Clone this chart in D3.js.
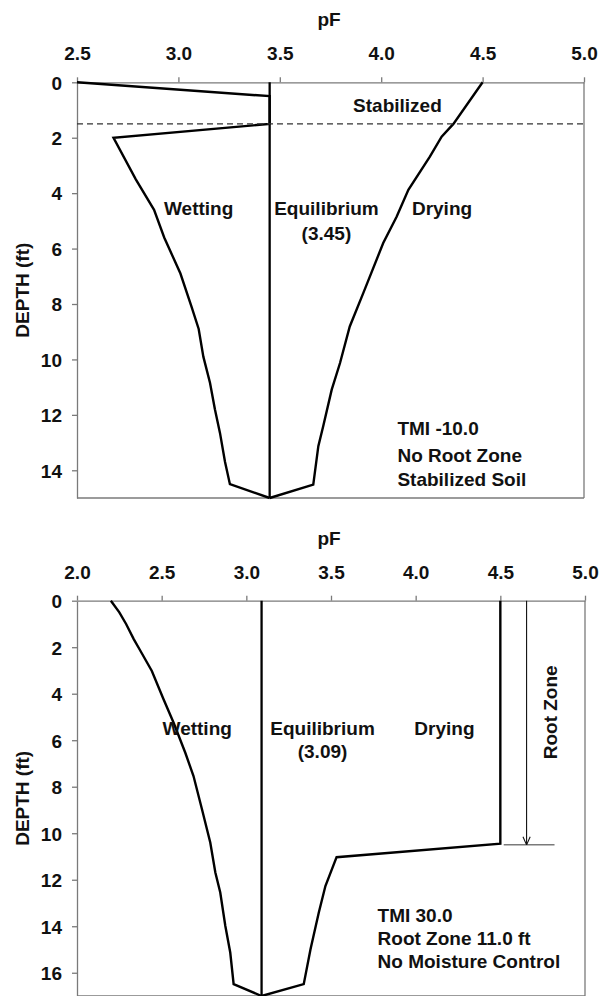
<!DOCTYPE html>
<html>
<head>
<meta charset="utf-8">
<script src="https://cdn.jsdelivr.net/npm/d3@7"></script>
<style>
  html, body { margin: 0; padding: 0; background: #fff; }
  svg { display: block; }
  text { font-family: "Liberation Sans", Arial, sans-serif; font-weight: bold; fill: #111; }
</style>
</head>
<body>
<svg id="chart" width="600" height="996"></svg>
<script>
// ── Data: [pF, depth ft] ───────────────────────────────────────────────────
// Upper panel: TMI -10, no root zone, stabilized soil
const TOP_PF_TICKS = [2.5, 3.0, 3.5, 4.0, 4.5, 5.0];
const TOP_DEPTH_TICKS = [0, 2, 4, 6, 8, 10, 12, 14];
const TOP_EQUILIBRIUM = 3.45;
const TOP_STABILIZED_DEPTH = 1.5;
const TOP_WETTING = [
  [2.5, 0], [3.45, 0.5], [3.45, 1.5], [2.68, 2.0], [2.79, 3.5], [2.88, 4.6],
  [2.93, 5.6], [3.01, 6.9], [3.065, 8.1], [3.1, 8.9], [3.123, 9.9], [3.156, 10.85],
  [3.18, 11.8], [3.205, 12.65], [3.23, 13.7], [3.254, 14.5], [3.45, 15]
];
const TOP_DRYING = [
  [4.5, 0], [4.356, 1.5], [4.298, 1.96], [4.24, 2.68], [4.134, 3.88], [4.076, 4.85],
  [4.01, 5.8], [3.912, 7.6], [3.845, 8.81], [3.797, 10.13], [3.756, 11.09],
  [3.714, 12.41], [3.69, 13.13], [3.665, 14.52], [3.45, 15]
];

// Lower panel: TMI 30, root zone 11 ft, no moisture control
const BOTTOM_PF_TICKS = [2.0, 2.5, 3.0, 3.5, 4.0, 4.5, 5.0];
const BOTTOM_DEPTH_TICKS = [0, 2, 4, 6, 8, 10, 12, 14, 16];
const BOTTOM_EQUILIBRIUM = 3.09;
const BOTTOM_WETTING = [
  [2.2, 0], [2.25, 0.5], [2.29, 1.0], [2.335, 1.65], [2.37, 2.1], [2.442, 3.02],
  [2.511, 4.24], [2.57, 5.24], [2.639, 6.53], [2.688, 7.54], [2.738, 8.97],
  [2.787, 10.4], [2.817, 11.69], [2.846, 12.55], [2.876, 13.99], [2.905, 15.13],
  [2.925, 16.49], [3.09, 17]
];
const BOTTOM_DRYING = [
  [4.5, 0], [4.5, 10.45], [3.533, 11.03], [3.467, 12.27], [3.428, 13.41],
  [3.379, 14.99], [3.339, 16.49], [3.09, 17]
];
const ROOT_ZONE_DEPTH = 10.5;
const ROOT_ARROW_PF = 4.655;
const ROOT_BAR_PF = [4.52, 4.82];

const AXIS_GREY = '#7a7a7a';
const FONT_SIZE = 19;
const svg = d3.select('#chart');

svg.append('defs').append('marker')
  .attr('id', 'arrow').attr('viewBox', '0 0 10 10').attr('refX', 10).attr('refY', 5)
  .attr('markerWidth', 9).attr('markerHeight', 9).attr('orient', 'auto-start-reverse')
  .attr('markerUnits', 'userSpaceOnUse')
  .append('path').attr('d', 'M1,1 L10,5 L1,9').attr('fill', 'none').attr('stroke', '#111').attr('stroke-width', 1.2);

// Draw one panel: frame, axes, labels, and returns the scales for extras.
function drawPanel(opts) {
  const x = d3.scaleLinear().domain(opts.pfDomain).range([opts.left, opts.right]);
  const y = d3.scaleLinear().domain(opts.depthDomain).range([opts.top, opts.bottom]);
  const g = svg.append('g');

  // right and bottom frame
  g.append('line').attr('x1', opts.right).attr('x2', opts.right).attr('y1', opts.top).attr('y2', opts.bottom)
    .attr('stroke', AXIS_GREY).attr('stroke-width', 1.3);
  g.append('line').attr('x1', opts.left).attr('x2', opts.right).attr('y1', opts.bottom).attr('y2', opts.bottom)
    .attr('stroke', AXIS_GREY).attr('stroke-width', 1.3);

  const xAxis = g.append('g').attr('transform', `translate(0,${opts.top})`)
    .call(d3.axisTop(x).tickValues(opts.pfTicks).tickFormat(d3.format('.1f')).tickSizeInner(5).tickSizeOuter(0).tickPadding(17));
  const yAxis = g.append('g').attr('transform', `translate(${opts.left},0)`)
    .call(d3.axisLeft(y).tickValues(opts.depthTicks).tickSizeInner(5).tickSizeOuter(0).tickPadding(10));
  [xAxis, yAxis].forEach(axis => {
    axis.select('.domain').attr('stroke', AXIS_GREY).attr('stroke-width', 1.3);
    axis.selectAll('.tick line').attr('stroke', AXIS_GREY).attr('stroke-width', 1.3);
    axis.selectAll('.tick text').attr('font-size', FONT_SIZE).attr('font-family', null).attr('fill', '#111');
  });
  yAxis.selectAll('.tick text').attr('dy', '0.36em');

  g.append('text').attr('x', 329).attr('y', opts.top - 56).attr('text-anchor', 'middle')
    .attr('font-size', FONT_SIZE).text('pF');
  g.append('text').attr('transform', `translate(29,${(opts.top + opts.bottom) / 2}) rotate(-90)`)
    .attr('text-anchor', 'middle').attr('font-size', FONT_SIZE).text('DEPTH (ft)');

  const line = d3.line().x(d => x(d[0])).y(d => y(d[1]));
  const curve = (data, width) => g.append('path').datum(data).attr('d', line)
    .attr('fill', 'none').attr('stroke', '#000').attr('stroke-width', width).attr('stroke-linejoin', 'miter');

  curve([[opts.equilibrium, opts.depthDomain[0]], [opts.equilibrium, opts.depthDomain[1]]], 2.3);
  curve(opts.wetting, 2.4);
  curve(opts.drying, 2.4);

  // free labels, positioned in data units
  opts.labels.forEach(l => {
    g.append('text').attr('x', x(l.pf)).attr('y', y(l.depth)).attr('font-size', FONT_SIZE)
      .attr('text-anchor', l.anchor || 'middle').text(l.text);
  });
  return { g, x, y };
}

// ── Upper panel ────────────────────────────────────────────────────────────
const upperPanel = drawPanel({
  left: 77, right: 584, top: 82.3, bottom: 498,
  pfDomain: [2.5, 5.0], depthDomain: [0, 15],
  pfTicks: TOP_PF_TICKS, depthTicks: TOP_DEPTH_TICKS,
  equilibrium: TOP_EQUILIBRIUM, wetting: TOP_WETTING, drying: TOP_DRYING,
  labels: [
    { text: 'Stabilized', pf: 4.08, depth: 1.06 },
    { text: 'Wetting', pf: 3.1, depth: 4.78 },
    { text: 'Equilibrium', pf: 3.73, depth: 4.78 },
    { text: '(3.45)', pf: 3.73, depth: 5.68 },
    { text: 'Drying', pf: 4.3, depth: 4.78 },
    { text: 'TMI -10.0', pf: 4.08, depth: 12.71, anchor: 'start' },
    { text: 'No Root Zone', pf: 4.08, depth: 13.69, anchor: 'start' },
    { text: 'Stabilized Soil', pf: 4.08, depth: 14.58, anchor: 'start' }
  ]
});
upperPanel.g.append('line')
  .attr('x1', upperPanel.x(2.5)).attr('x2', upperPanel.x(5.0))
  .attr('y1', upperPanel.y(TOP_STABILIZED_DEPTH)).attr('y2', upperPanel.y(TOP_STABILIZED_DEPTH))
  .attr('stroke', '#333').attr('stroke-width', 1.2).attr('stroke-dasharray', '6,4');

// ── Lower panel ────────────────────────────────────────────────────────────
const lowerPanel = drawPanel({
  left: 77, right: 585, top: 600.7, bottom: 996,
  pfDomain: [2.0, 5.0], depthDomain: [0, 17],
  pfTicks: BOTTOM_PF_TICKS, depthTicks: BOTTOM_DEPTH_TICKS,
  equilibrium: BOTTOM_EQUILIBRIUM, wetting: BOTTOM_WETTING, drying: BOTTOM_DRYING,
  labels: [
    { text: 'Wetting', pf: 2.71, depth: 5.77 },
    { text: 'Equilibrium', pf: 3.45, depth: 5.77 },
    { text: '(3.09)', pf: 3.45, depth: 6.76 },
    { text: 'Drying', pf: 4.17, depth: 5.77 },
    { text: 'TMI 30.0', pf: 3.775, depth: 13.8, anchor: 'start' },
    { text: 'Root Zone 11.0 ft', pf: 3.775, depth: 14.8, anchor: 'start' },
    { text: 'No Moisture Control', pf: 3.775, depth: 15.78, anchor: 'start' }
  ]
});
lowerPanel.g.append('line')
  .attr('x1', lowerPanel.x(ROOT_BAR_PF[0])).attr('x2', lowerPanel.x(ROOT_BAR_PF[1]))
  .attr('y1', lowerPanel.y(ROOT_ZONE_DEPTH)).attr('y2', lowerPanel.y(ROOT_ZONE_DEPTH))
  .attr('stroke', AXIS_GREY).attr('stroke-width', 1.5);
lowerPanel.g.append('line')
  .attr('x1', lowerPanel.x(ROOT_ARROW_PF)).attr('x2', lowerPanel.x(ROOT_ARROW_PF))
  .attr('y1', lowerPanel.y(0)).attr('y2', lowerPanel.y(ROOT_ZONE_DEPTH))
  .attr('stroke', '#111').attr('stroke-width', 1.1).attr('marker-end', 'url(#arrow)');
lowerPanel.g.append('text')
  .attr('transform', `translate(${lowerPanel.x(ROOT_ARROW_PF) + 30},${lowerPanel.y(4.8)}) rotate(-90)`)
  .attr('text-anchor', 'middle').attr('font-size', FONT_SIZE).text('Root Zone');
</script>
</body>
</html>
